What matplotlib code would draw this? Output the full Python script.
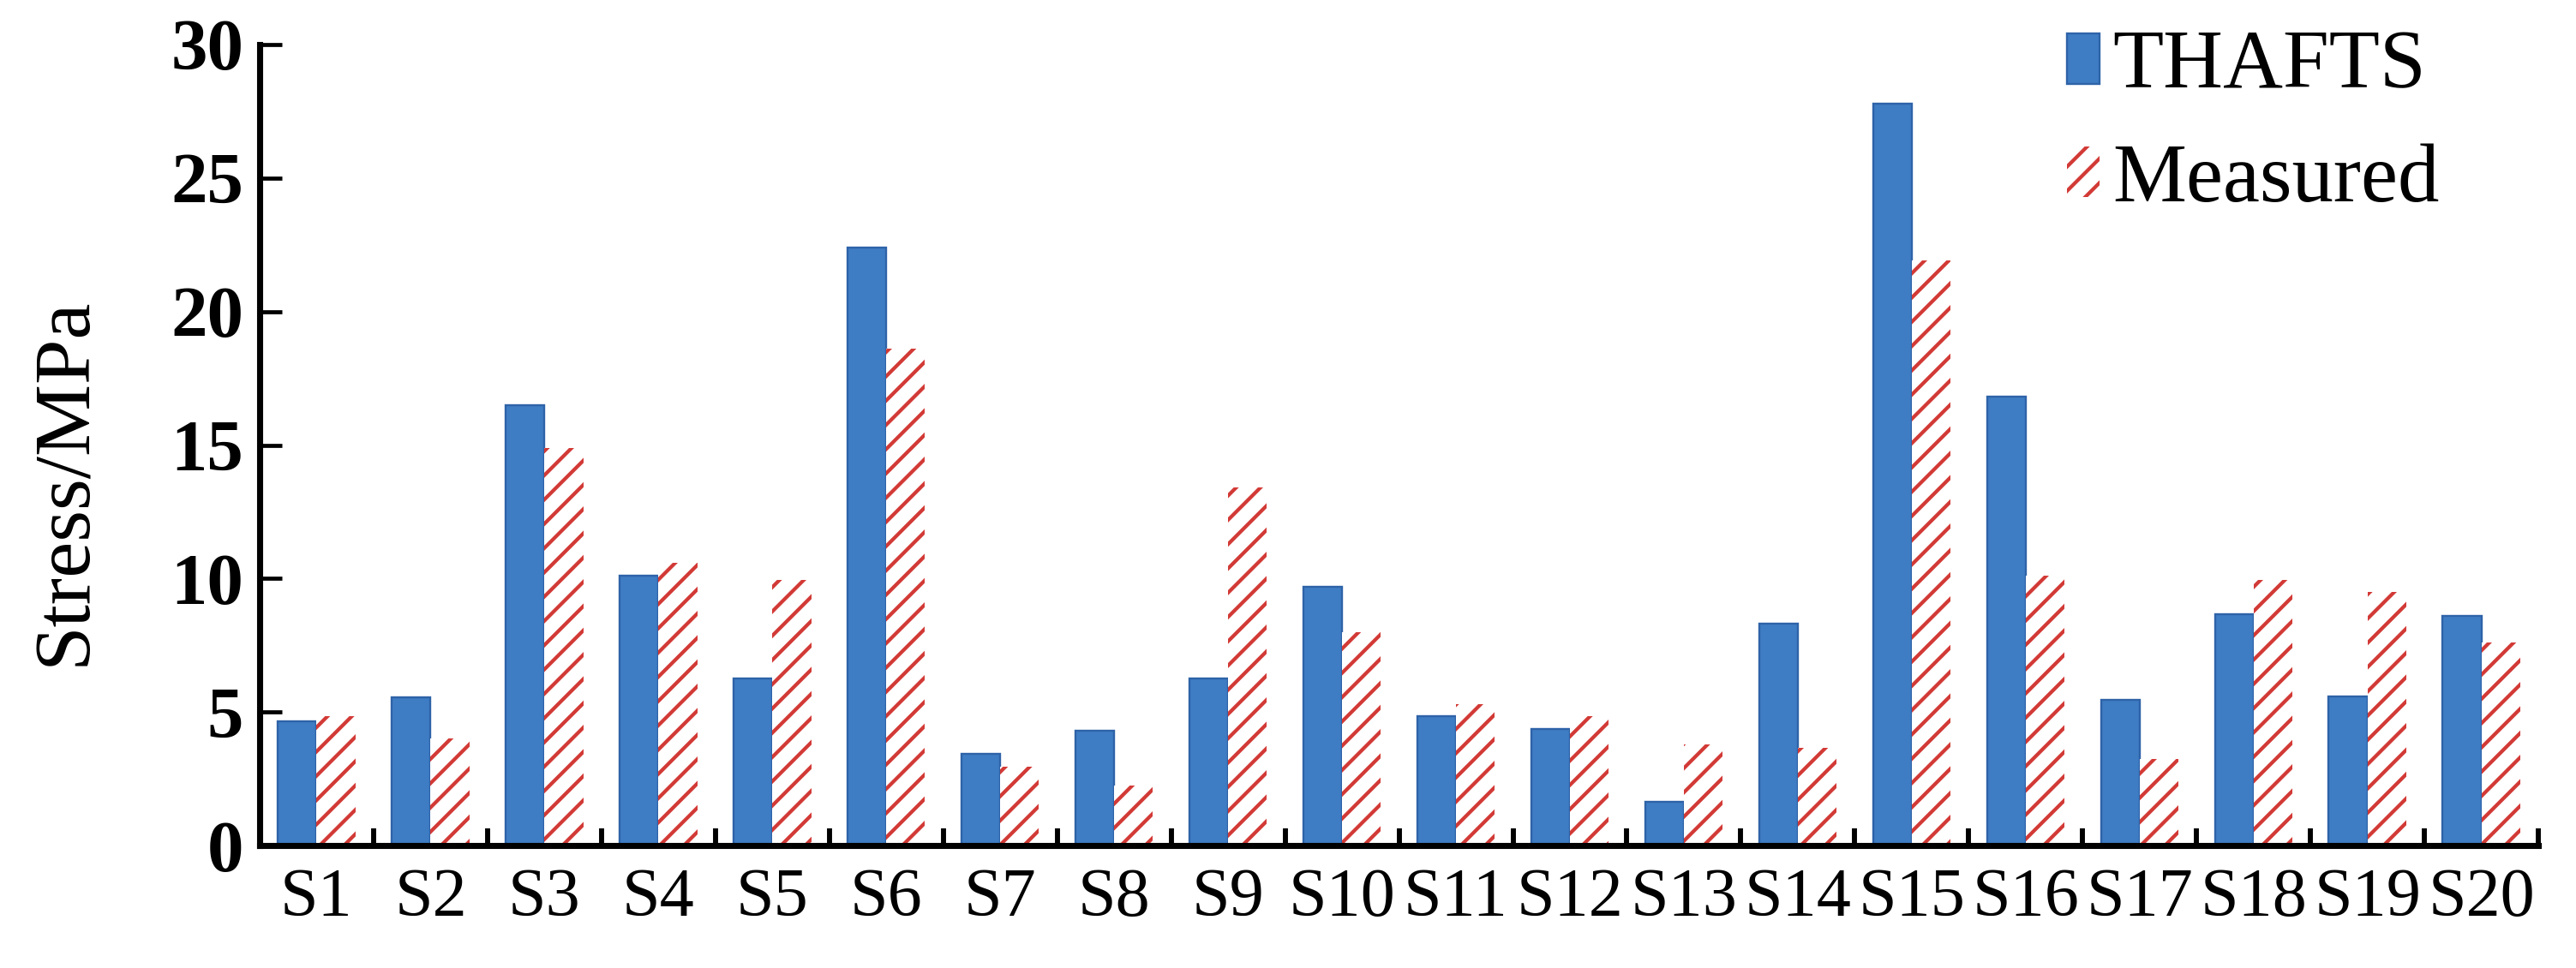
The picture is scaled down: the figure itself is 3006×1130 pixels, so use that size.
import matplotlib
matplotlib.use("Agg")
import matplotlib.pyplot as plt
import numpy as np

categories = [f"S{i}" for i in range(1, 21)]
thafts = [4.65, 5.55, 16.5, 10.1, 6.25, 22.4, 3.45, 4.3, 6.25, 9.7,
          4.85, 4.35, 1.65, 8.3, 27.8, 16.8, 5.45, 8.65, 5.6, 8.6]
measured = [4.85, 4.0, 14.9, 10.6, 9.95, 18.6, 2.95, 2.25, 13.4, 8.0,
            5.3, 4.85, 3.8, 3.65, 21.9, 10.1, 3.25, 9.95, 9.5, 7.6]
yticks = [0, 5, 10, 15, 20, 25, 30]

DPI = 170
plt.rcParams['font.family'] = ['Liberation Serif', 'DejaVu Serif']
plt.rcParams['hatch.linewidth'] = 1.8

fig = plt.figure(figsize=(3006 / DPI, 1130 / DPI), dpi=DPI)
ax = fig.add_axes([0.1008, 0.1265, 0.8846, 0.8275])

x = np.arange(len(categories))
w = 0.34
ax.bar(x - w / 2, thafts, w, color='#3E7CC4', edgecolor='#2E63A8',
       linewidth=1, label='THAFTS')
ax.bar(x + w / 2, measured, w, color='white', edgecolor='#D23A36',
       linewidth=0, hatch='//', label='Measured')

ax.set_xlim(-0.5, len(categories) - 0.5)
ax.set_ylim(0, 30)
ax.set_yticks(yticks)
ax.set_yticklabels([str(v) for v in yticks], fontsize=36, fontweight='bold')
ax.set_xticks(x)
ax.set_xticklabels(categories, fontsize=34)
ax.set_xticks(np.arange(len(categories) + 1) - 0.5, minor=True)
ax.tick_params(axis='x', which='major', length=0, pad=11)
ax.tick_params(axis='x', which='minor', direction='in', length=8.5, width=2.5)
ax.tick_params(axis='y', direction='in', length=11, width=2, pad=8)
ax.set_ylabel('Stress/MPa', fontsize=40)
ax.yaxis.set_label_coords(-0.069, 0.455)

for side in ['top', 'right']:
    ax.spines[side].set_visible(False)
for side in ['left', 'bottom']:
    ax.spines[side].set_linewidth(3)

ax.legend(loc='upper left', bbox_to_anchor=(0.793, 1.018), frameon=False,
          fontsize=41, handlelength=0.4, handleheight=0.55, handletextpad=0.15,
          labelspacing=0.45, borderaxespad=0, borderpad=0)

fig.savefig('out.png', dpi=DPI)
